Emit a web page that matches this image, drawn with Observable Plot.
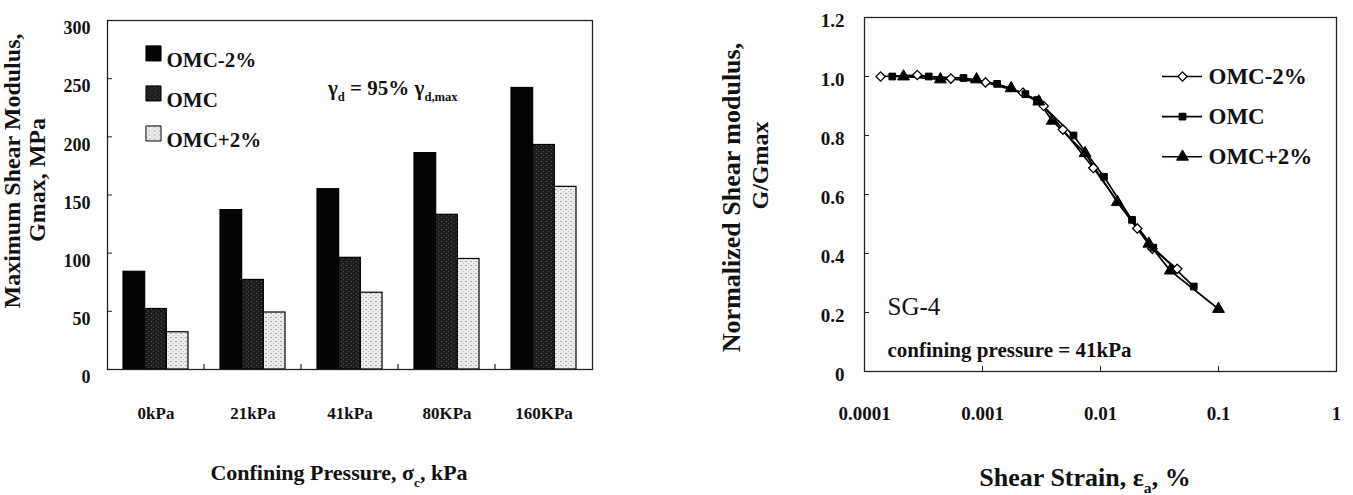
<!DOCTYPE html>
<html><head><meta charset="utf-8">
<script src="https://cdn.jsdelivr.net/npm/d3@7"></script>
<script src="https://cdn.jsdelivr.net/npm/@observablehq/plot@0.6"></script>
<style>
body{margin:0;background:#fff;}
#wrap{display:flex;width:1353px;height:495px;overflow:hidden;}
#wrap svg{font-family:"Liberation Serif","Times New Roman",serif;flex:none;}
</style></head><body><div id="wrap"></div>
<script>
// ---- Left panel data ----
const pressures = ["0kPa", "21kPa", "41kPa", "80KPa", "160KPa"];
const moistureSeries = ["OMC-2%", "OMC", "OMC+2%"];
const gmaxOMCminus2 = [84, 137, 155, 186, 242];
const gmaxOMC = [52, 77, 96, 133, 193];
const gmaxOMCplus2 = [32, 49, 66, 95, 157];
const leftYTicks = [0, 50, 100, 150, 200, 250, 300];

// ---- Right panel data ----
const strainOMCminus2 = [1.37e-4, 2.8e-4, 5.4e-4, 1.06e-3, 2.2e-3, 3.3e-3, 4.8e-3, 8.7e-3, 0.0205, 0.0275, 0.0447];
const ratioOMCminus2  = [1.0, 1.005, 0.993, 0.98, 0.945, 0.9, 0.82, 0.69, 0.485, 0.416, 0.348];
const strainOMC = [1.72e-4, 3.5e-4, 6.9e-4, 1.33e-3, 2.31e-3, 2.9e-3, 5.9e-3, 1.07e-2, 0.0185, 0.028, 0.0617];
const ratioOMC  = [1.0, 1.0, 0.995, 0.975, 0.94, 0.92, 0.80, 0.66, 0.514, 0.42, 0.288];
const strainOMCplus2 = [2.14e-4, 4.4e-4, 8.9e-4, 1.75e-3, 3.0e-3, 3.9e-3, 7.4e-3, 0.0139, 0.0257, 0.039, 0.1];
const ratioOMCplus2  = [1.0, 0.99, 0.99, 0.96, 0.915, 0.85, 0.74, 0.574, 0.433, 0.342, 0.212];
const rightXTicks = [0.0001, 0.001, 0.01, 0.1, 1];
const rightYTicks = [0, 0.2, 0.4, 0.6, 0.8, 1.0, 1.2];

// ---- tables ----
const gmaxBySeries = [gmaxOMCminus2, gmaxOMC, gmaxOMCplus2];
const bars = moistureSeries.flatMap((s, i) => pressures.map((p, j) => ({pressure: p, series: s, value: gmaxBySeries[i][j]})));
const strains = [strainOMCminus2, strainOMC, strainOMCplus2];
const ratios = [ratioOMCminus2, ratioOMC, ratioOMCplus2];
const curve = moistureSeries.flatMap((s, i) => strains[i].map((x, j) => ({series: s, strain: x, ratio: ratios[i][j]})));

const FONT = "Liberation Serif, Times New Roman, serif";
const barFill = {"OMC-2%": "#050505", "OMC": "url(#texOMC)", "OMC+2%": "url(#texOMCp2)"};

// texture patterns for the bars (scanned-print look)
function patternDefs() {
  return () => {
    const defs = d3.create("svg:defs");
    const p1 = defs.append("pattern").attr("id", "texOMC").attr("patternUnits", "userSpaceOnUse")
      .attr("width", 5).attr("height", 4);
    p1.append("rect").attr("width", 5).attr("height", 4).attr("fill", "#1d1d1d");
    p1.append("rect").attr("x", 1).attr("y", 1).attr("width", 1).attr("height", 1).attr("fill", "#5a5a5a");
    p1.append("rect").attr("x", 3).attr("y", 3).attr("width", 1).attr("height", 1).attr("fill", "#444");
    const p2 = defs.append("pattern").attr("id", "texOMCp2").attr("patternUnits", "userSpaceOnUse")
      .attr("width", 5).attr("height", 4);
    p2.append("rect").attr("width", 5).attr("height", 4).attr("fill", "#ececec");
    p2.append("rect").attr("x", 0).attr("y", 1).attr("width", 2).attr("height", 1).attr("fill", "#a8a8a8");
    p2.append("rect").attr("x", 3).attr("y", 3).attr("width", 1).attr("height", 1).attr("fill", "#bdbdbd");
    return defs.node();
  };
}

function richText(x, y, parts, {size = 22, weight = "bold", anchor = "middle", rotate = 0} = {}) {
  return () => {
    const t = d3.create("svg:text")
      .attr("transform", `translate(${x},${y}) rotate(${rotate})`)
      .attr("text-anchor", anchor)
      .attr("font-family", FONT)
      .attr("font-weight", weight)
      .attr("font-size", size)
      .attr("fill", "#111")
      .attr("y", size * 0.34);
    let shifted = 0;
    for (const p of parts) {
      const ts = t.append("tspan").text(p.t);
      if (p.sub) {
        ts.attr("font-size", size * 0.6).attr("dy", size * 0.28 - shifted);
        shifted = size * 0.28;
      } else if (shifted) {
        ts.attr("dy", -shifted);
        shifted = 0;
      }
    }
    return t.node();
  };
}

// ---------------- LEFT ----------------
const bw = 65 / 3;
const leftLegendY = [265.7, 231.3, 196.9];
const leftLegend = moistureSeries.map((s, i) => ({series: s, ly: leftLegendY[i]}));

const left = Plot.plot({
  width: 700, height: 495,
  marginLeft: 107, marginRight: 108, marginTop: 20, marginBottom: 126,
  style: {fontFamily: FONT, color: "#111", background: "white"},
  x: {domain: pressures, paddingInner: 0.33, paddingOuter: 0.165, label: null},
  y: {domain: [0, 300], label: null},
  marks: [
    patternDefs(),
    ...moistureSeries.map((s, i) => Plot.barY(bars.filter(d => d.series === s), {
      x: "pressure", y: "value", fill: barFill[s], stroke: "#000", strokeWidth: 1.2,
      insetLeft: i * bw, insetRight: (2 - i) * bw
    })),
    Plot.frame({stroke: "#222", strokeWidth: 1.3}),
    Plot.axisY(leftYTicks, {tickSize: 5, dx: 5, tickFormat: () => "", stroke: "#222"}),
    Plot.axisY(leftYTicks, {tickSize: 0, tickPadding: 17, dy: 8, fontSize: 18, fontWeight: "bold"}),
    Plot.axisX({tickSize: 0, tickPadding: 37, fontSize: 17, fontWeight: "bold"}),
    (index, scales) => {
      const x = scales.x, y = scales.y;
      const g = d3.create("svg:g").attr("stroke", "#222").attr("stroke-width", 1.2);
      const gap = (x.step() - x.bandwidth()) / 2;
      for (const p of pressures.slice(1)) {
        const xp = x(p) - gap;
        g.append("line").attr("x1", xp).attr("x2", xp).attr("y1", y(0)).attr("y2", y(0) - 5);
      }
      return g.node();
    },
    // legend
    ...moistureSeries.map((s, i) => Plot.dot([leftLegend[i]], {
      y: d => d.ly + 6, frameAnchor: "left", dx: 46, symbol: "square", r: 8.5,
      fill: barFill[s], stroke: "#000", strokeWidth: 1
    })),
    Plot.text(leftLegend, {y: "ly", frameAnchor: "left", dx: 59, text: "series", textAnchor: "start", fontSize: 21, fontWeight: "bold", fill: "#111"}),
    // annotation
    richText(328, 88, [{t: "γ"}, {t: "d", sub: true}, {t: " = 95% γ"}, {t: "d,max", sub: true}], {size: 21, anchor: "start"}),
    // axis titles
    Plot.text(["Maximum Shear Modulus,"], {frameAnchor: "left", textAnchor: "middle", dx: -95, dy: -24, rotate: -90, fontSize: 24, fontWeight: "bold", fill: "#111"}),
    Plot.text(["Gmax, MPa"], {frameAnchor: "left", textAnchor: "middle", dx: -70, dy: -15, rotate: -90, fontSize: 24, fontWeight: "bold", fill: "#111"}),
    richText(339, 473, [{t: "Confining Pressure, σ"}, {t: "c", sub: true}, {t: ", kPa"}], {size: 22})
  ]
});

// ---------------- RIGHT ----------------
const rightLegendY = [1.0, 0.864, 0.728];
const rightLegend = moistureSeries.map((s, i) => ({series: s, ly: rightLegendY[i]}));
const dotStyle = {
  "OMC-2%": {symbol: "diamond2", r: 4.2, fill: "white", stroke: "#000", strokeWidth: 1.3},
  "OMC": {symbol: "square", r: 3.8, fill: "#000", stroke: "#000", strokeWidth: 1},
  "OMC+2%": {symbol: "triangle", r: 4.4, fill: "#000", stroke: "#000", strokeWidth: 1}
};

const right = Plot.plot({
  width: 653, height: 495,
  marginLeft: 164, marginRight: 17, marginTop: 17, marginBottom: 124,
  style: {fontFamily: FONT, color: "#111", background: "white"},
  x: {type: "log", domain: [1e-4, 1], label: null},
  y: {domain: [0, 1.2], label: null},
  marks: [
    Plot.frame({stroke: "#222", strokeWidth: 1.3}),
    Plot.line(curve, {x: "strain", y: "ratio", z: "series", stroke: "#000", strokeWidth: 1.7}),
    ...moistureSeries.map(s => Plot.dot(curve.filter(d => d.series === s), {x: "strain", y: "ratio", ...dotStyle[s]})),
    Plot.axisY(rightYTicks, {tickSize: 5, dx: 5, tickFormat: () => "", stroke: "#222"}),
    Plot.axisY(rightYTicks, {tickSize: 0, tickPadding: 20, dy: 3, fontSize: 19, fontWeight: "bold",
      tickFormat: d => d === 0 ? "0" : d.toFixed(1)}),
    Plot.axisX(rightXTicks.slice(1, -1), {tickSize: 5, dy: -5, tickFormat: () => "", stroke: "#222"}),
    Plot.axisX(rightXTicks, {tickSize: 0, tickPadding: 35, fontSize: 19, fontWeight: "bold", tickFormat: d => String(d)}),
    // legend
    Plot.tickY(rightLegend, {y: "ly", insetLeft: 298, insetRight: 134, stroke: "#000", strokeWidth: 1.7}),
    ...moistureSeries.map((s, i) => Plot.dot([rightLegend[i]], {y: "ly", frameAnchor: "left", dx: 318, ...dotStyle[s]})),
    Plot.text(rightLegend, {y: "ly", frameAnchor: "left", dx: 344, text: "series", textAnchor: "start", fontSize: 23, fontWeight: "bold", fill: "#111"}),
    // annotations
    Plot.text(["SG-4"], {frameAnchor: "top-left", dx: 23, dy: 280, textAnchor: "start", fontSize: 25, fill: "#111"}),
    Plot.text(["confining pressure = 41kPa"], {frameAnchor: "top-left", dx: 23, dy: 325, textAnchor: "start", fontSize: 21, fontWeight: "bold", fill: "#111"}),
    // axis titles
    Plot.text(["Normalized Shear modulus,"], {frameAnchor: "left", textAnchor: "middle", dx: -133, dy: 3, rotate: -90, fontSize: 26, fontWeight: "bold", fill: "#111"}),
    Plot.text(["G/Gmax"], {frameAnchor: "left", textAnchor: "middle", dx: -104, dy: -29, rotate: -90, fontSize: 24, fontWeight: "bold", fill: "#111"}),
    richText(385, 477, [{t: "Shear Strain, ε"}, {t: "a", sub: true}, {t: ", %"}], {size: 26})
  ]
});

document.getElementById("wrap").append(left, right);
</script>
</body></html>
